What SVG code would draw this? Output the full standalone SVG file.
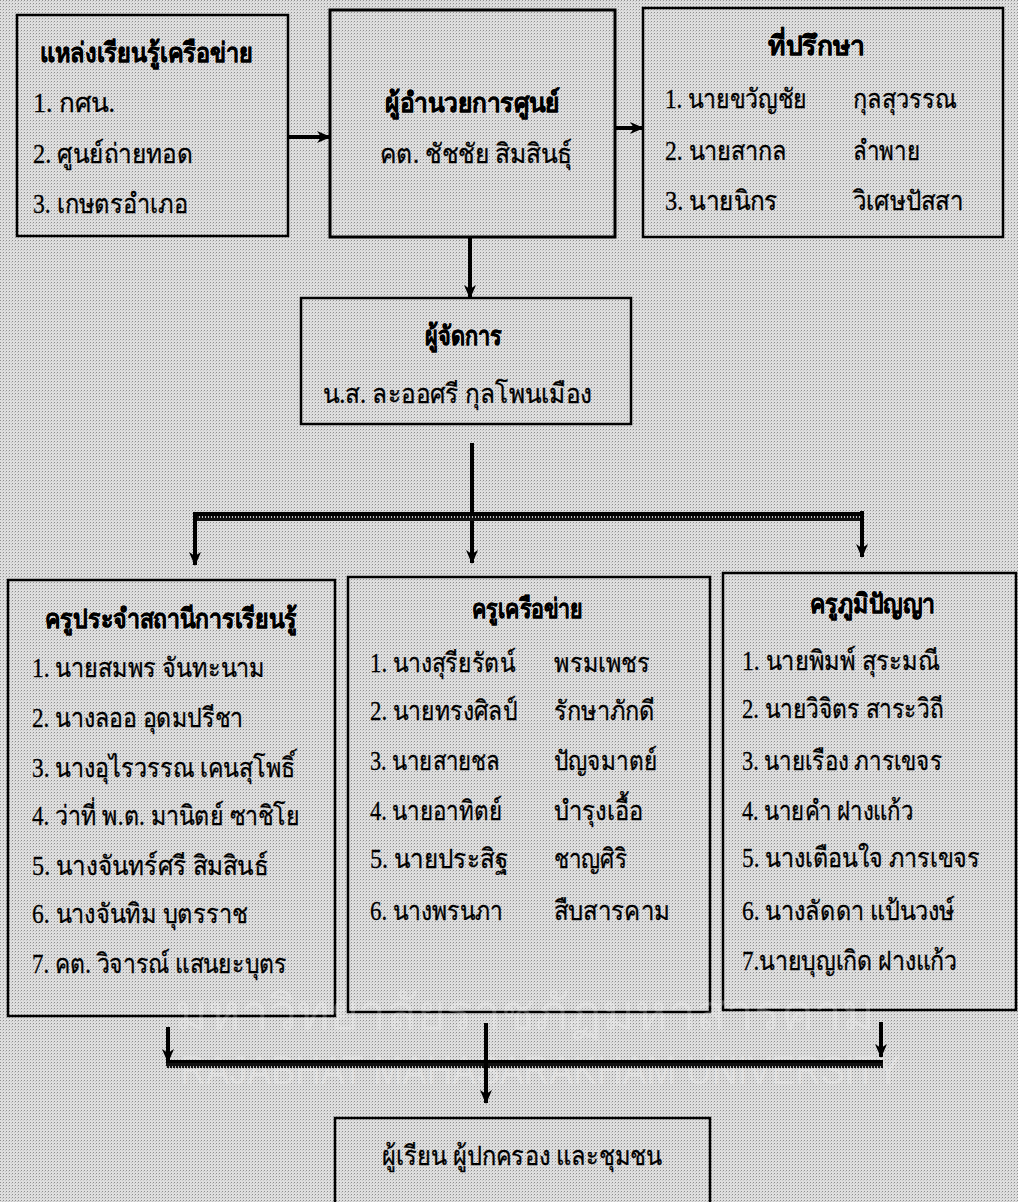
<svg xmlns="http://www.w3.org/2000/svg" width="1018" height="1202" viewBox="0 0 1018 1202">
<defs>
<pattern id="ht" width="3" height="3" patternUnits="userSpaceOnUse">
<rect width="3" height="3" fill="#dedede"/>
<rect x="0" y="0" width="1" height="1" fill="#8f8f8f"/>
<rect x="2" y="1" width="1" height="1" fill="#c4c4c4"/>
</pattern>
<pattern id="hatch" width="3" height="5" patternUnits="userSpaceOnUse">
<rect width="3" height="5" fill="#111"/>
<rect x="1" y="1" width="1" height="2" fill="#bbb"/>
</pattern>
<marker id="ah" viewBox="0 0 14 12" refX="13" refY="6" markerWidth="14" markerHeight="12" markerUnits="userSpaceOnUse" orient="auto">
<path d="M0,0 L4,6 L0,12 L14,6 Z" fill="#000"/>
</marker>
</defs>
<style>
.box{fill:url(#ht);stroke:#000;stroke-width:2.5}
.t{font-family:"Liberation Serif","DejaVu Serif",serif;font-size:27px;fill:#000;stroke:#000;stroke-width:0.3}
.b{font-weight:bold}
.c{text-anchor:middle}
.ln{stroke:#000;stroke-width:4;fill:none}
.wm{font-family:"Liberation Sans","DejaVu Sans",sans-serif;fill:#fff;opacity:0.22;font-size:50px;text-anchor:middle}
</style>
<rect width="1018" height="1202" fill="url(#ht)"/>

<g id="n1">
<rect class="box" x="17" y="15" width="271" height="221"/>
<text class="t b c" x="146.5" y="62" textLength="213" lengthAdjust="spacingAndGlyphs">แหล่งเรียนรู้เครือข่าย</text>
<text class="t" x="33" y="112" textLength="82" lengthAdjust="spacingAndGlyphs">1. กศน.</text>
<text class="t" x="33" y="163" textLength="160" lengthAdjust="spacingAndGlyphs">2. ศูนย์ถ่ายทอด</text>
<text class="t" x="33" y="213" textLength="155" lengthAdjust="spacingAndGlyphs">3. เกษตรอำเภอ</text>
</g>

<g id="n2">
<rect class="box" x="330" y="10" width="285" height="227" style="stroke-width:3"/>
<text class="t b c" x="472.5" y="112" textLength="175" lengthAdjust="spacingAndGlyphs">ผู้อำนวยการศูนย์</text>
<text class="t c" x="476" y="163" textLength="192" lengthAdjust="spacingAndGlyphs">คต. ชัชชัย สิมสินธุ์</text>
</g>

<g id="n3">
<rect class="box" x="643" y="8" width="360" height="229"/>
<text class="t b c" x="816.5" y="55" textLength="97" lengthAdjust="spacingAndGlyphs">ที่ปรึกษา</text>
<text class="t" x="665" y="108" textLength="142" lengthAdjust="spacingAndGlyphs">1. นายขวัญชัย</text>
<text class="t" x="853" y="108" textLength="104" lengthAdjust="spacingAndGlyphs">กุลสุวรรณ</text>
<text class="t" x="665" y="160" textLength="122" lengthAdjust="spacingAndGlyphs">2. นายสากล</text>
<text class="t" x="853" y="160" textLength="67" lengthAdjust="spacingAndGlyphs">ลำพาย</text>
<text class="t" x="665" y="210" textLength="113" lengthAdjust="spacingAndGlyphs">3. นายนิกร</text>
<text class="t" x="853" y="210" textLength="110" lengthAdjust="spacingAndGlyphs">วิเศษปัสสา</text>
</g>

<g id="n4">
<rect class="box" x="301" y="298" width="330" height="126"/>
<text class="t b c" x="463.5" y="345" textLength="77" lengthAdjust="spacingAndGlyphs">ผู้จัดการ</text>
<text class="t c" x="457.5" y="403" textLength="269" lengthAdjust="spacingAndGlyphs">น.ส. ละออศรี  กุลโพนเมือง</text>
</g>

<g id="n5">
<rect class="box" x="8" y="580" width="327" height="436"/>
<text class="t b c" x="171" y="628" textLength="252" lengthAdjust="spacingAndGlyphs">ครูประจำสถานีการเรียนรู้</text>
<text class="t" x="32" y="677" textLength="233" lengthAdjust="spacingAndGlyphs">1. นายสมพร จันทะนาม</text>
<text class="t" x="32" y="727" textLength="211" lengthAdjust="spacingAndGlyphs">2. นางลออ อุดมปรีชา</text>
<text class="t" x="32" y="777" textLength="263" lengthAdjust="spacingAndGlyphs">3. นางอุไรวรรณ เคนสุโพธิ์</text>
<text class="t" x="32" y="825" textLength="268" lengthAdjust="spacingAndGlyphs">4. ว่าที่ พ.ต. มานิตย์  ซาชิโย</text>
<text class="t" x="32" y="875" textLength="236" lengthAdjust="spacingAndGlyphs">5. นางจันทร์ศรี สิมสินธ์</text>
<text class="t" x="32" y="923" textLength="216" lengthAdjust="spacingAndGlyphs">6. นางจันทิม บุตรราช</text>
<text class="t" x="32" y="973" textLength="255" lengthAdjust="spacingAndGlyphs">7. คต. วิจารณ์ แสนยะบุตร</text>
</g>

<g id="n6">
<rect class="box" x="348" y="577" width="362" height="435"/>
<text class="t b c" x="527.5" y="618" textLength="111" lengthAdjust="spacingAndGlyphs">ครูเครือข่าย</text>
<text class="t" x="370" y="672" textLength="145" lengthAdjust="spacingAndGlyphs">1. นางสุรียรัตน์</text>
<text class="t" x="554" y="672" textLength="96" lengthAdjust="spacingAndGlyphs">พรมเพชร</text>
<text class="t" x="370" y="720" textLength="147" lengthAdjust="spacingAndGlyphs">2. นายทรงศิลป์</text>
<text class="t" x="554" y="720" textLength="101" lengthAdjust="spacingAndGlyphs">รักษาภักดี</text>
<text class="t" x="370" y="770" textLength="130" lengthAdjust="spacingAndGlyphs">3. นายสายชล</text>
<text class="t" x="554" y="770" textLength="103" lengthAdjust="spacingAndGlyphs">ปัญจมาตย์</text>
<text class="t" x="370" y="820" textLength="132" lengthAdjust="spacingAndGlyphs">4. นายอาทิตย์</text>
<text class="t" x="554" y="820" textLength="89" lengthAdjust="spacingAndGlyphs">บำรุงเอื้อ</text>
<text class="t" x="370" y="868" textLength="138" lengthAdjust="spacingAndGlyphs">5. นายประสิฐ</text>
<text class="t" x="554" y="868" textLength="73" lengthAdjust="spacingAndGlyphs">ชาญศิริ</text>
<text class="t" x="370" y="920" textLength="133" lengthAdjust="spacingAndGlyphs">6. นางพรนภา</text>
<text class="t" x="554" y="920" textLength="116" lengthAdjust="spacingAndGlyphs">สืบสารคาม</text>
</g>

<g id="n7">
<rect class="box" x="723" y="573" width="293" height="437"/>
<text class="t b c" x="872.5" y="613" textLength="125" lengthAdjust="spacingAndGlyphs">ครูภูมิปัญญา</text>
<text class="t" x="742" y="670" textLength="198" lengthAdjust="spacingAndGlyphs">1. นายพิมพ์ สุระมณี</text>
<text class="t" x="742" y="718" textLength="201" lengthAdjust="spacingAndGlyphs">2. นายวิจิตร สาระวิถี</text>
<text class="t" x="742" y="770" textLength="200" lengthAdjust="spacingAndGlyphs">3. นายเรือง ภารเขจร</text>
<text class="t" x="742" y="820" textLength="171" lengthAdjust="spacingAndGlyphs">4. นายคำ ฝางแก้ว</text>
<text class="t" x="742" y="867" textLength="238" lengthAdjust="spacingAndGlyphs">5. นางเตือนใจ ภารเขจร</text>
<text class="t" x="742" y="920" textLength="213" lengthAdjust="spacingAndGlyphs">6. นางลัดดา แป้นวงษ์</text>
<text class="t" x="742" y="970" textLength="215" lengthAdjust="spacingAndGlyphs">7.นายบุญเกิด ฝางแก้ว</text>
</g>

<g id="n8">
<rect class="box" x="335" y="1118" width="375" height="100"/>
<text class="t c" x="522" y="1165" textLength="280" lengthAdjust="spacingAndGlyphs">ผู้เรียน  ผู้ปกครอง และชุมชน</text>
</g>

<g id="wm">
<text class="wm" x="525" y="1030" textLength="700" lengthAdjust="spacingAndGlyphs">มหาวิทยาลัยราชภัฏมหาสารคาม</text>
<text class="wm" x="540" y="1084" style="font-size:40px" textLength="720" lengthAdjust="spacingAndGlyphs">RAJABHAT MAHASARAKHAM UNIVERSITY</text>
</g>

<g id="connectors">
<line class="ln" x1="289" y1="137" x2="330" y2="137" marker-end="url(#ah)"/>
<line class="ln" x1="616" y1="128" x2="643" y2="128" marker-end="url(#ah)"/>
<line class="ln" x1="470" y1="238" x2="470" y2="298" marker-end="url(#ah)"/>
<line class="ln" x1="472" y1="443" x2="472" y2="563" marker-end="url(#ah)"/>
<rect x="193" y="512" width="671" height="4" fill="#000"/>
<rect x="193" y="516" width="671" height="5" fill="url(#hatch)"/>
<line class="ln" x1="195" y1="513" x2="195" y2="565" marker-end="url(#ah)"/>
<line class="ln" x1="862" y1="511" x2="862" y2="557" marker-end="url(#ah)"/>
<line class="ln" x1="168" y1="1027" x2="168" y2="1062" marker-end="url(#ah)"/>
<line class="ln" x1="881" y1="1022" x2="881" y2="1057" marker-end="url(#ah)"/>
<rect x="166" y="1060" width="717" height="3" fill="#000"/>
<rect x="166" y="1063" width="717" height="5" fill="url(#hatch)"/>
<line class="ln" x1="486" y1="1023" x2="486" y2="1103" marker-end="url(#ah)"/>
</g>
</svg>
